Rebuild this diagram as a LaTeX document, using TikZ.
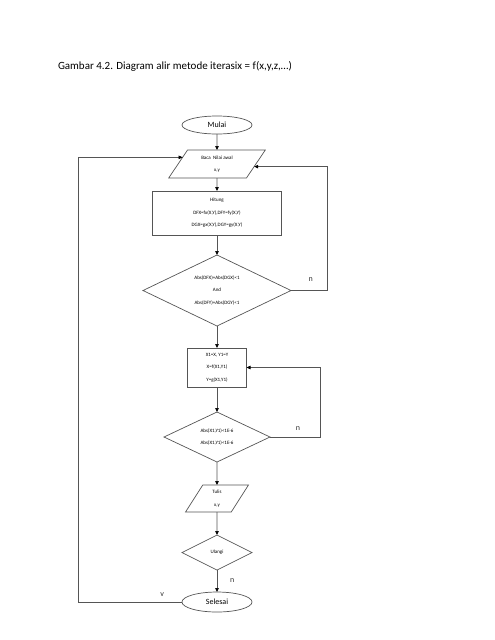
\documentclass[tikz,border=0pt]{standalone}
\usepackage{fontspec}
\setmainfont{Carlito}
\usepackage{tikz}
\usetikzlibrary{arrows.meta, positioning, shapes.geometric}
\usepackage{xcolor}
\definecolor{edge}{HTML}{555555}

\begin{document}
\begin{tikzpicture}[
        every node/.style={align=center, inner sep=0pt, outer sep=0pt},
        small/.style={font=\fontsize{5}{12.5}\selectfont},
        term/.style={ellipse, draw=edge, line width=0.7pt, font=\fontsize{8}{9}\selectfont, minimum width=70pt},
        io/.style={trapezium, trapezium stretches=true, draw=edge, line width=0.7pt, small},
        proc/.style={rectangle, draw=edge, line width=0.7pt, small},
        cond/.style={diamond, aspect=2, draw=edge, line width=0.7pt, small},
        lbl/.style={font=\fontsize{8}{9}\selectfont, text=black!80},
        arr/.style={-{Triangle[length=4pt, width=3.5pt, color=black]}, edge, line width=0.7pt},
      ]
      \useasboundingbox (0,0) rectangle (495pt,-640pt);

      \node[anchor=west, font=\fontsize{11}{13}\selectfont] (title) at (58pt,-66pt)
        {Gambar 4.2. Diagram alir metode iterasix = f(x,y,z,…)};

      \node[term, minimum height=18pt] (mulai) at (217pt,-125pt) {Mulai};
      \node[io, trapezium left angle=59, trapezium right angle=121,
            minimum width=97pt, minimum height=28pt, below=16pt of mulai] (baca) {Baca\ \ Nilai awal\\x,y};
      \node[proc, minimum width=129pt, minimum height=44pt, below=13pt of baca] (hitung)
        {Hitung\\DFX=fx(X,Y),DFY=fy(X,Y)\\DGX=gx(X,Y),DGY=gy(X,Y)};
      \node[cond, minimum width=148pt, minimum height=71pt, below=20pt of hitung] (cek1)
        {Abs(DFX)+Abs(DGX)<1\\And\\Abs(DFY)+Abs(DGY)<1};
      \node[proc, minimum width=59pt, minimum height=39pt, below=22pt of cek1] (iter)
        {X1=X, Y1=Y\\X=f(X1,Y1)\\Y=g(X1,Y1)};
      \node[cond, minimum width=106pt, minimum height=50pt, below=25pt of iter] (cek2)
        {Abs(X1,Y1)<1E-6\\Abs(X1,Y1)<1E-6};
      \node[io, trapezium left angle=72, trapezium right angle=108,
            minimum width=63pt, minimum height=27pt, below=23pt of cek2] (tulis) {Tulis\\x,y};
      \node[cond, minimum width=70pt, minimum height=35pt, below=23pt of tulis] (ulangi) {Ulangi};
      \node[term, minimum height=20pt, below=22pt of ulangi] (selesai) {Selesai};

      \draw[arr] (mulai) -- (baca);
      \draw[arr] (baca) -- (hitung);
      \draw[arr] (hitung) -- (cek1);
      \draw[arr] (cek1) -- (iter);
      \draw[arr] (iter) -- (cek2);
      \draw[arr] (cek2) -- (tulis);
      \draw[arr] (tulis) -- (ulangi);
      \draw[arr] (ulangi) -- node[lbl, right=13pt] {n} (selesai);

      % loops back
      \draw[arr] (cek1.east) -- node[lbl, above=9pt, pos=0.55] {n} ++(36pt,0) |- (baca.-4);
      \draw[arr] (cek2.east) -- node[lbl, above=7pt, pos=0.56] {n} ++(50pt,0) |- (iter.east);
      \draw[arr] (selesai.west) -- node[lbl, above=6pt, pos=0.19] {v} ++(-104pt,0) |- (baca.169);
    \end{tikzpicture}
\end{document}
